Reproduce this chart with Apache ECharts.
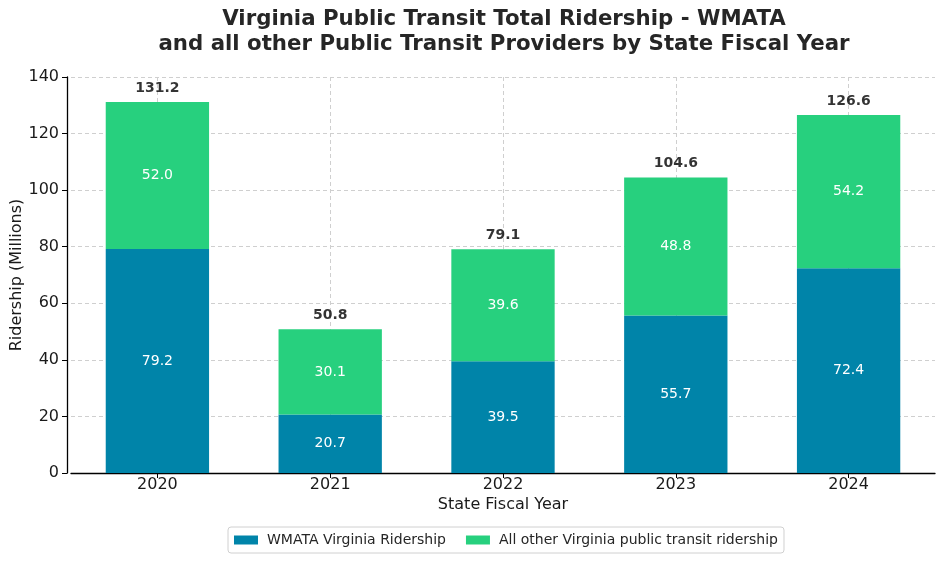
<!DOCTYPE html>
<html>
<head>
<meta charset="utf-8">
<script src="https://cdn.jsdelivr.net/npm/echarts@6/dist/echarts.min.js"></script>
<style>html,body{margin:0;padding:0;background:#fff;}#c{width:950px;height:561px;}</style>
</head>
<body>
<div id="c"></div>
<script>
const years = ['2020', '2021', '2022', '2023', '2024'];
const wmata = [79.2, 20.7, 39.5, 55.7, 72.4];
const others = [52.0, 30.1, 39.6, 48.8, 54.2];
const totals = [131.2, 50.8, 79.1, 104.6, 126.6];
const yTicks = [0, 20, 40, 60, 80, 100, 120, 140];

const FONT = 'DejaVu Sans';
const chart = echarts.init(document.getElementById('c'), null, {renderer: 'canvas'});
chart.setOption({
  animation: false,
  textStyle: {fontFamily: FONT},
  title: {
    text: 'Virginia Public Transit Total Ridership - WMATA\nand all other Public Transit Providers by State Fiscal Year',
    left: 499, top: 2, textAlign: 'center',
    textStyle: {fontFamily: FONT, fontSize: 21.3, fontWeight: 'bold', color: '#262626', lineHeight: 25}
  },
  legend: {
    data: ['WMATA Virginia Ridership', 'All other Virginia public transit ridership'],
    left: 228, top: 527,
    padding: [6, 6, 6, 6],
    itemWidth: 24, itemHeight: 9, itemGap: 20,
    borderColor: '#d0d0d0', borderWidth: 1, borderRadius: 3,
    icon: 'rect',
    textStyle: {fontFamily: FONT, fontSize: 14, color: '#262626', padding: [0, 0, 0, 4]}
  },
  grid: {left: 71, right: 15, top: 77, bottom: 88, containLabel: false, outerBoundsMode: 'none'},
  xAxis: {
    type: 'category', data: years,
    axisLine: {lineStyle: {color: '#000', width: 1.3}},
    axisTick: {show: true, alignWithLabel: true, length: 5, lineStyle: {color: '#000'}},
    axisLabel: {fontSize: 16, color: '#1a1a1a', margin: 4},
    splitLine: {show: false},
    name: 'State Fiscal Year', nameLocation: 'middle', nameGap: 24, nameMoveOverlap: false,
    nameTextStyle: {fontSize: 16, color: '#1a1a1a'}
  },
  yAxis: {
    type: 'value', min: 0, max: 140, interval: 20, offset: 4,
    axisLine: {show: true, lineStyle: {color: '#000', width: 1.3}},
    axisTick: {show: true, length: 5, lineStyle: {color: '#000'}},
    axisLabel: {fontSize: 16, color: '#1a1a1a', margin: 8,
      formatter: v => yTicks.includes(v) ? String(v) : ''},
    splitLine: {show: true, lineStyle: {type: [4, 3], color: '#cfcfcf', width: 1}},
    name: 'Ridership (Millions)', nameLocation: 'middle', nameGap: 42, nameMoveOverlap: false,
    nameTextStyle: {fontSize: 16, color: '#1a1a1a'}
  },
  series: [
    {
      name: 'WMATA Virginia Ridership', type: 'bar', stack: 'total',
      data: wmata, barWidth: '59.8%',
      itemStyle: {color: '#0084A9'},
      label: {show: true, position: 'inside', color: '#fff', fontSize: 14,
        formatter: p => p.value.toFixed(1)},
      markLine: {
        silent: true, symbol: 'none', label: {show: false},
        lineStyle: {type: [4, 3], color: '#cfcfcf', width: 1},
        z: 0,
        data: years.map(y => ({xAxis: y}))
      },
      z: 2
    },
    {
      name: 'All other Virginia public transit ridership', type: 'bar', stack: 'total',
      data: others, barWidth: '59.8%',
      itemStyle: {color: '#27D07E'},
      label: {show: true, position: 'inside', color: '#fff', fontSize: 14,
        formatter: p => p.value.toFixed(1)},
      z: 2
    },
    {
      name: 'Total', type: 'scatter', data: totals,
      symbol: 'circle', symbolSize: 2, itemStyle: {color: 'rgba(0,0,0,0)'},
      label: {show: true, position: 'top', distance: 6, color: '#000',
        fontSize: 14, fontWeight: 'bold', formatter: p => p.value.toFixed(1)},
      z: 5, silent: true
    }
  ]
});
</script>
</body>
</html>
